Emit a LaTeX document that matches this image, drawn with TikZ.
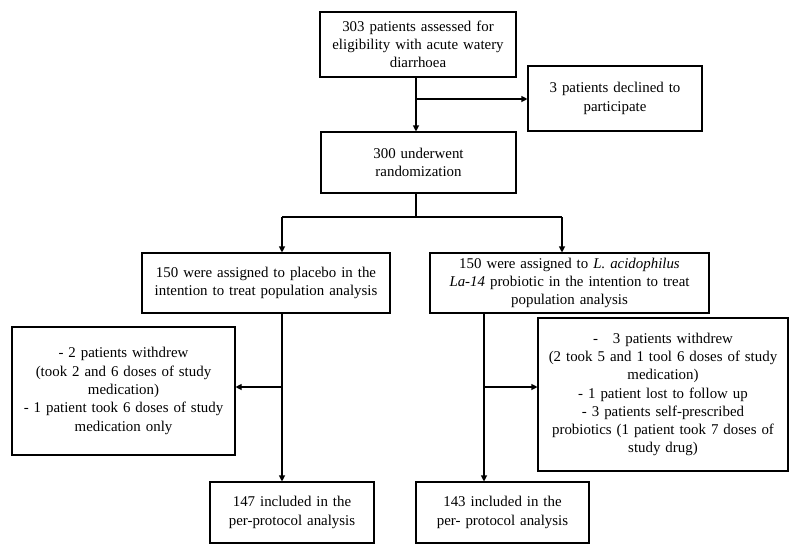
\documentclass[tikz,border=0pt]{standalone}
\usepackage{fontspec}
\setmainfont{Liberation Serif}
\usetikzlibrary{arrows.meta}

\begin{document}
\begin{tikzpicture}[
        x=1pt,
        y=-1pt,
        flow-box/.style={
            draw,
            line width=1.1pt,
            align=center,
            inner sep=2pt,
            font=\fontsize{14.9}{18.3}\selectfont,
        },
        flow-line/.style={
            line width=1.1pt,
        },
        flow-arrow/.style={
            line width=1.1pt,
            -{Triangle[length=6pt, width=6pt]},
        },
    ]

    \useasboundingbox (0, 0) rectangle (800, 555);

    % Boxes.
    \node[flow-box, text width=192, minimum height=65] (assess) at (418, 44.5)
        {303 patients assessed for\\ eligibility with acute watery\\ diarrhoea};
    \node[flow-box, text width=170, minimum height=65] (declined) at (615, 98.5)
        {3 patients declined to\\ participate};
    \node[flow-box, text width=191, minimum height=61] (random) at (418.5, 162.5)
        {300 underwent\\ randomization};
    \node[flow-box, text width=244, minimum height=60] (placebo) at (266, 283)
        {150 were assigned to placebo in the\\ intention to treat population analysis};
    \node[flow-box, text width=275, minimum height=60, inner ysep=0pt] (probiotic) at (569.5, 283)
        {150 were assigned to \textit{L. acidophilus}\\ \textit{La-14} probiotic in the intention to treat\\ population analysis};
    \node[flow-box, text width=219, minimum height=128] (withdrawL) at (123.5, 391)
        {- 2 patients withdrew\\ (took 2 and 6 doses of study\\ medication)\\ - 1 patient took 6 doses of study\\ medication only};
    \node[flow-box, text width=246, minimum height=153] (withdrawR) at (663, 394.5)
        {-\quad 3 patients withdrew\\ (2 took 5 and 1 tool 6 doses of study\\ medication)\\ - 1 patient lost to follow up\\ - 3 patients self-prescribed\\ probiotics (1 patient took 7 doses of\\ study drug)};
    \node[flow-box, text width=160, minimum height=61] (ppL) at (292, 512.5)
        {147 included in the\\ per-protocol analysis};
    \node[flow-box, text width=169, minimum height=61] (ppR) at (502.5, 512.5)
        {143 included in the\\ per- protocol analysis};

    % Branch points.
    \coordinate (split1) at (416, 99);
    \coordinate (forkL) at (282, 217);
    \coordinate (forkR) at (562, 217);
    \coordinate (splitL) at (282, 387);
    \coordinate (splitR) at (484, 387);

    % Enrolment.
    \draw[flow-arrow] (assess.south -| split1) -- (random.north -| split1);
    \draw[flow-arrow] (split1) -- (split1 -| declined.west);

    % Allocation.
    \draw[flow-line] (random.south -| split1) -- (split1 |- forkL);
    \draw[flow-line] (forkL) -- (forkR);
    \draw[flow-arrow] (forkL) -- (forkL |- placebo.north);
    \draw[flow-arrow] (forkR) -- (forkR |- probiotic.north);

    % Follow up and analysis.
    \draw[flow-arrow] (placebo.south -| splitL) -- (ppL.north -| splitL);
    \draw[flow-arrow] (splitL) -- (splitL -| withdrawL.east);
    \draw[flow-arrow] (probiotic.south -| splitR) -- (ppR.north -| splitR);
    \draw[flow-arrow] (splitR) -- (splitR -| withdrawR.west);
\end{tikzpicture}
\end{document}
